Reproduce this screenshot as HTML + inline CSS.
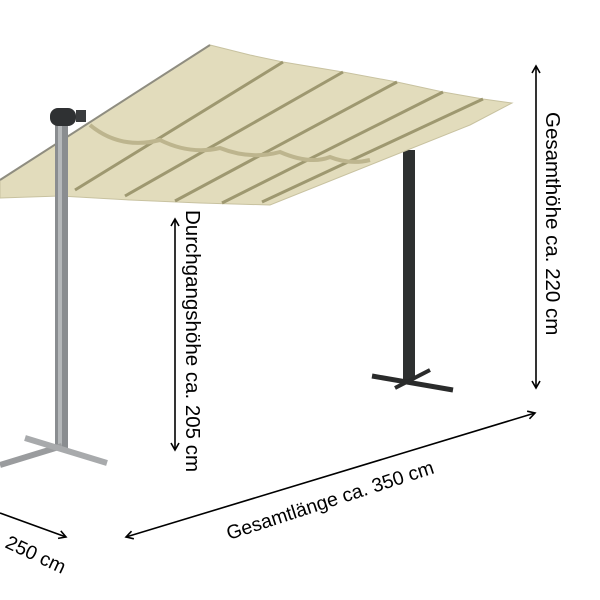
<!DOCTYPE html>
<html><head><meta charset="utf-8"><style>html,body{margin:0;padding:0;background:#fff}svg{display:block}</style></head><body>
<svg width="600" height="600" viewBox="0 0 600 600" xmlns="http://www.w3.org/2000/svg" font-family="Liberation Sans, sans-serif">
<defs><marker id="a" markerWidth="10" markerHeight="10" refX="8" refY="5" orient="auto-start-reverse" markerUnits="userSpaceOnUse"><path d="M1,1 L8,5 L1,9" fill="none" stroke="#000" stroke-width="1.6"/></marker></defs>
<!-- right pole -->
<rect x="403" y="150" width="12" height="230" fill="#2e3030"/>
<path d="M372,376 L453,390" stroke="#2a2b2b" stroke-width="5"/>
<path d="M395,388 L430,370" stroke="#2a2b2b" stroke-width="4"/>
<!-- canopy -->
<path d="M210,45 L250,55 L283,62 L343,72 L397,82 L443,92 L483,99 L512,103 L470,125 L270,205 L200,203 L130,200 L60,196 L0,198 L0,180 Z" fill="#e2dcbc" stroke="#c8c2a0" stroke-width="1"/>
<path d="M210,45 L0,180" stroke="#8f8d80" stroke-width="2"/>
<g stroke="#9e9870" stroke-width="3" fill="none">
<path d="M283,62 L75,190"/><path d="M343,72 L125,196"/><path d="M397,82 L175,201"/><path d="M443,92 L222,203"/><path d="M483,99 L262,202"/>
</g>
<g stroke="#bdb58e" stroke-width="4" fill="none">
<path d="M90,125 Q120,150 160,140 Q190,155 220,148 Q250,160 280,152 Q310,165 330,157 Q350,165 370,160"/>
</g>
<!-- left pole (in front) -->
<rect x="55" y="118" width="13" height="332" fill="#8a8d90"/>
<rect x="58" y="118" width="4" height="332" fill="#b5b8ba"/>
<path d="M0,465 L62,446" stroke="#9a9c9e" stroke-width="6"/>
<path d="M25,438 L107,463" stroke="#a8aaac" stroke-width="6"/>
<!-- left head -->
<rect x="50" y="108" width="26" height="18" rx="8" fill="#2f3133"/>
<rect x="76" y="110" width="10" height="12" fill="#3a3c3e"/>
<!-- arrows -->
<g stroke="#000" stroke-width="1.6" fill="none" marker-start="url(#a)" marker-end="url(#a)">
<line x1="536" y1="66" x2="536" y2="388"/>
<line x1="175" y1="219" x2="175" y2="450"/>
<line x1="126" y1="537" x2="535" y2="413"/>
</g>
<line x1="0" y1="513" x2="66" y2="537" stroke="#000" stroke-width="1.6" marker-end="url(#a)"/>
<g fill="#000">
<text font-size="20.5" transform="translate(546,112) rotate(90)">Gesamthöhe ca. 220 cm</text>
<text font-size="20.5" transform="translate(186,210) rotate(90)">Durchgangshöhe ca. 205 cm</text>
<text font-size="19.5" transform="translate(229,540) rotate(-18)">Gesamtlänge ca. 350 cm</text>
<text font-size="19.5" transform="translate(4,547) rotate(25)">250 cm</text>
</g>
</svg>
</body></html>
